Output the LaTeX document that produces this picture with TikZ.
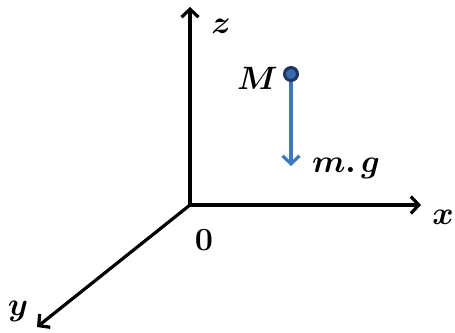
\documentclass[tikz,border=0pt]{standalone}
\usepackage{bm}
\usetikzlibrary{arrows.meta}
\definecolor{forceblue}{RGB}{61,120,190}
\definecolor{pointnavy}{RGB}{31,52,96}

\begin{document}
\begin{tikzpicture}[x=1pt,y=-1pt,
		axis/.style={line width=3.2pt,-{Straight Barb[length=8pt,width=17pt]}},
		force/.style={forceblue,line width=3.2pt,-{Straight Barb[length=8pt,width=17pt]}},
		lbl/.style={font=\fontsize{24}{28}\selectfont,scale=1.3,inner sep=0pt}]
	\useasboundingbox (0,0) rectangle (455,332);
	% axes
	\coordinate (O) at (190,205);
	\coordinate (X) at (421,205);
	\coordinate (Z) at (190,7);
	\coordinate (Y) at (37,327);
	\foreach \e in {X,Y,Z}
		\draw[axis] (O) -- (\e);
	\node[lbl] (zlab) at (221,26) {$\bm{z}$};
	\node[lbl] (xlab) at (443,217) {$\bm{x}$};
	\node[lbl] (ylab) at (18,311) {$\bm{y}$};
	\node[lbl] (olab) at (204,240) {$\mathbf{0}$};
	% mass point and its weight
	\node[circle,draw=pointnavy,line width=3pt,fill=forceblue!80!pointnavy,
		minimum size=13pt,inner sep=0pt] (M) at (291,74) {};
	\node[lbl,anchor=east] (mlab) at (278,78) {$\bm{M}$};
	\coordinate (F) at (291,166);
	\draw[force] (M.south) -- (F);
	\node[lbl] (glab) at (346,168) {$\bm{m.\,g}$};
\end{tikzpicture}
\end{document}
